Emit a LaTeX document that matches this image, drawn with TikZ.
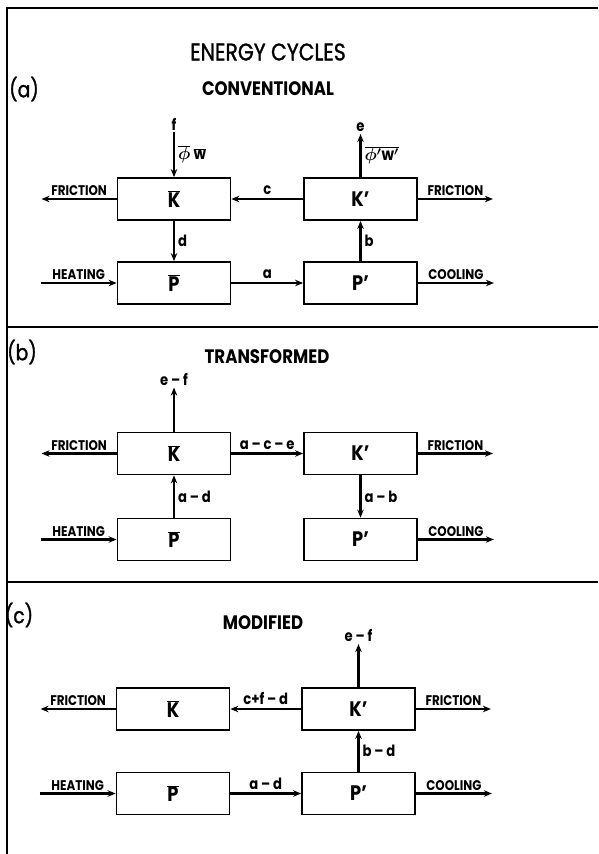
\documentclass[tikz,border=0pt]{standalone}
\usepackage{fontspec}
\setmainfont[FakeStretch=0.85]{Poppins}
\newfontfamily\headfont[FakeStretch=0.85,FakeBold=1.2]{Poppins}
\usetikzlibrary{positioning,arrows.meta}
\newcommand{\Kbar}{$\overline{\hbox{K}}$}
\newcommand{\Pbar}{$\overline{\hbox{P}}$}

\begin{document}
\begin{tikzpicture}[x=1pt,y=-1pt,
  box/.style={draw,line width=1.8pt,minimum width=113pt,minimum height=42pt,inner sep=0pt,font=\fontsize{21}{21}\selectfont\bfseries},
  ar/.style={-{Stealth[length=8pt,width=6.5pt]},line width=2.2pt},
  lbl/.style={font=\fontsize{14}{14}\selectfont\bfseries,inner sep=2pt},
  flow/.style={font=\fontsize{15.5}{16}\selectfont\bfseries\boldmath,inner sep=3pt},
  head/.style={font=\fontsize{19.5}{20}\selectfont\bfseries},
  part/.style={font=\fontsize{22}{22}\headfont},
  rule/.style={line width=1.6pt},
]
  \useasboundingbox (0,0) rectangle (598,854);
  % frame and dividers
  \draw[rule] (598,8) -- (7,8) -- (7,854);
  \draw[rule] (7,327) -- (598,327);
  \draw[rule] (7,582) -- (598,582);
  \node[font=\fontsize{24}{24}\headfont] (title) at (268,52) {ENERGY CYCLES};

  % (a) conventional
  \node[part] (pa) at (24,89) {(a)};
  \node[head] (ha) at (268,89) {CONVENTIONAL};
  \node[box] (KA) at (174,199) {\Kbar};
  \node[box] (KpA) at (360.5,199) {K'};
  \node[box] (PA) at (174,283) {\Pbar};
  \node[box] (PpA) at (360.5,283) {P'};
  \coordinate[left=75pt of KA] (fricLA);
  \coordinate[right=75pt of KpA] (fricRA);
  \coordinate[left=76pt of PA] (heatA);
  \coordinate[right=76pt of PpA] (coolA);
  \coordinate[above=45pt of KA] (fA);
  \coordinate[above=43pt of KpA] (eA);
  \draw[ar] (KA) -- (fricLA) node[lbl,midway,above] {FRICTION};
  \draw[ar] (KpA) -- (fricRA) node[lbl,midway,above] {FRICTION};
  \draw[ar] (heatA) -- (PA) node[lbl,midway,above] {HEATING};
  \draw[ar] (PpA) -- (coolA) node[lbl,midway,above] {COOLING};
  \draw[ar] (fA) node[flow,above,inner sep=1pt] {f} -- (KA) node[flow,midway,right,font=\fontsize{17}{17}\selectfont\boldmath] {$\overline{\phi}\,\overline{\hbox{\bfseries w}}$};
  \draw[ar] (KpA) -- (eA) node[flow,above,inner sep=1pt] {e} node[flow,midway,right,font=\fontsize{17}{17}\selectfont\boldmath] {$\overline{\phi'\hbox{\bfseries w}'}$};
  \draw[ar] (KpA) -- (KA) node[flow,midway,above] {c};
  \draw[ar] (KA) -- (PA) node[flow,midway,right] {d};
  \draw[ar] (PpA) -- (KpA) node[flow,midway,right] {b};
  \draw[ar] (PA) -- (PpA) node[flow,midway,above] {a};

  % (b) transformed
  \node[part] (pb) at (22,352) {(b)};
  \node[head] (hb) at (267,357) {TRANSFORMED};
  \node[box] (KB) at (174,453.5) {\Kbar};
  \node[box] (KpB) at (360.5,453.5) {K'};
  \node[box] (PB) at (174,539.5) {\Pbar};
  \node[box] (PpB) at (360.5,539.5) {P'};
  \coordinate[left=75pt of KB] (fricLB);
  \coordinate[right=75pt of KpB] (fricRB);
  \coordinate[left=76pt of PB] (heatB);
  \coordinate[right=76pt of PpB] (coolB);
  \coordinate[above=44pt of KB] (efB);
  \draw[ar] (KB) -- (fricLB) node[lbl,midway,above] {FRICTION};
  \draw[ar] (KpB) -- (fricRB) node[lbl,midway,above] {FRICTION};
  \draw[ar] (heatB) -- (PB) node[lbl,midway,above] {HEATING};
  \draw[ar] (PpB) -- (coolB) node[lbl,midway,above] {COOLING};
  \draw[ar] (KB) -- (efB) node[flow,above,inner sep=1pt] {e -- f};
  \draw[ar] (KB) -- (KpB) node[flow,midway,above] {a -- c -- e};
  \draw[ar] (PB) -- (KB) node[flow,midway,right] {a -- d};
  \draw[ar] (KpB) -- (PpB) node[flow,midway,right] {a -- b};

  % (c) modified
  \node[part] (pc) at (19,615) {(c)};
  \node[head] (hc) at (263,623) {MODIFIED};
  \node[box] (KC) at (173,709) {\Kbar};
  \node[box] (KpC) at (358.5,709) {K'};
  \node[box] (PC) at (173,793.5) {\Pbar};
  \node[box] (PpC) at (358.5,793.5) {P'};
  \coordinate[left=75pt of KC] (fricLC);
  \coordinate[right=75pt of KpC] (fricRC);
  \coordinate[left=76pt of PC] (heatC);
  \coordinate[right=76pt of PpC] (coolC);
  \coordinate[above=43pt of KpC] (efC);
  \draw[ar] (KC) -- (fricLC) node[lbl,midway,above] {FRICTION};
  \draw[ar] (KpC) -- (fricRC) node[lbl,midway,above] {FRICTION};
  \draw[ar] (heatC) -- (PC) node[lbl,midway,above] {HEATING};
  \draw[ar] (PpC) -- (coolC) node[lbl,midway,above] {COOLING};
  \draw[ar] (KpC) -- (efC) node[flow,above,inner sep=1pt] {e -- f};
  \draw[ar] (KpC) -- (KC) node[flow,midway,above] {c+f -- d};
  \draw[ar] (PpC) -- (KpC) node[flow,midway,right] {b -- d};
  \draw[ar] (PC) -- (PpC) node[flow,midway,above] {a -- d};
\end{tikzpicture}
\end{document}
